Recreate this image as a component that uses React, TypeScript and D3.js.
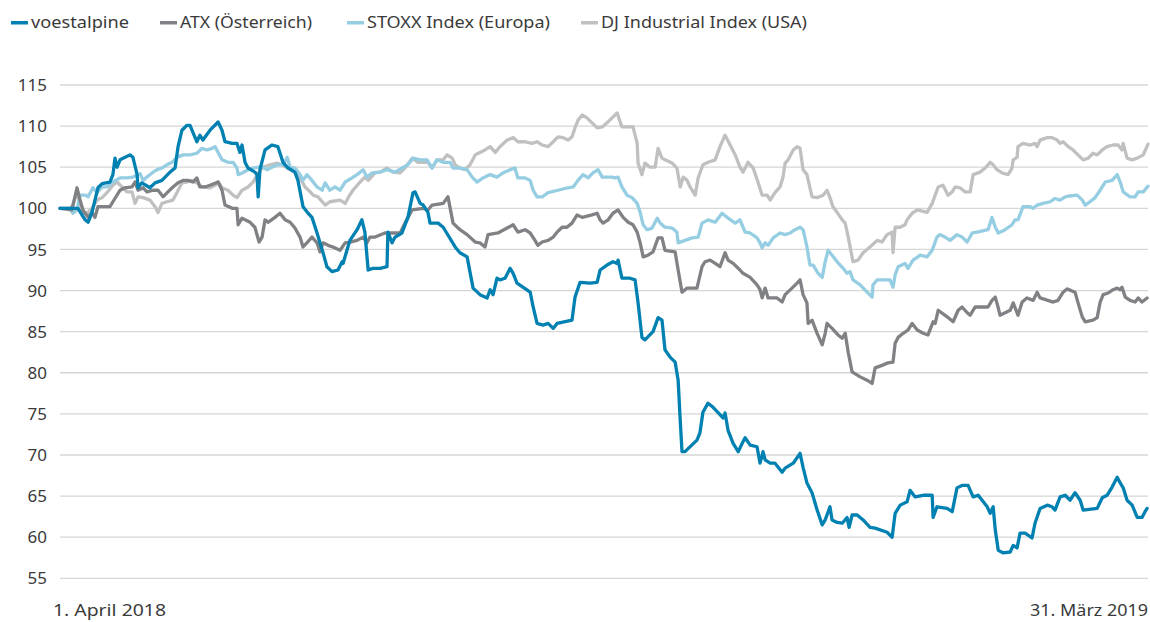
import React from "react";
import * as d3 from "d3";

// x = days since 1 April 2018, y = indexed value (1 April 2018 = 100)
const voestalpine: [number, number][] = [
  [0, 100], [3.3, 100], [6, 100], [8.4, 98.6], [9.4, 98.3], [10.7, 99.5], [12.7, 102.5], [14.1, 103.0],
  [16.7, 103.2], [17.7, 104.1], [18.4, 106.1], [19.1, 105.0], [20.1, 105.9], [23.4, 106.5], [24.4, 106.2],
  [25.8, 104.1], [26.1, 102.5], [27.4, 103.1], [30.1, 102.5], [31.8, 103.1], [34.1, 103.4], [36.8, 104.4],
  [38.5, 104.9], [39.5, 107.5], [40.8, 109.5], [42.5, 110.1], [43.5, 110.1], [44.5, 109.2], [45.8, 108.1],
  [46.8, 108.9], [47.8, 108.3], [50.2, 109.5], [52.9, 110.5], [54.2, 109.5], [55.2, 108.1], [57.6, 107.9],
  [59.2, 107.9], [60.2, 106.8], [60.9, 107.7], [61.9, 105.6], [62.9, 104.9], [65.2, 104.4], [65.9, 104.1],
  [66.3, 101.4], [66.9, 104.7], [68.6, 107.1], [70.9, 107.7], [72.9, 107.5], [74.6, 105.6], [76.3, 104.9],
  [78.6, 104.4], [79.6, 103.4], [81.3, 100.2], [83, 99.4], [84.3, 98.9], [86, 97.0], [88, 94.6], [89.3, 92.9],
  [91, 92.3], [93, 92.5], [94.4, 93.5], [94.7, 93.3], [96, 94.9], [97, 96.1], [99.4, 97.4], [101, 98.6],
  [102, 97.1], [103.1, 92.5], [104.7, 92.7], [107.1, 92.7], [109.4, 92.9], [109.7, 97.1], [111.1, 95.8],
  [112.1, 96.5], [114.4, 97.0], [116.4, 98.9], [118.1, 101.9], [118.8, 102.0], [120.5, 100.6], [121.5, 100.4],
  [123.1, 99.5], [123.8, 98.2], [126.5, 98.2], [128.2, 97.7], [132.2, 95.3], [133.8, 94.6], [136.2, 94.1],
  [138.2, 90.3], [140.5, 89.5], [142.9, 89.1], [143.9, 90.1], [144.9, 89.5], [146.2, 91.5], [147.2, 91.3],
  [148.9, 91.5], [150.6, 92.7], [151.6, 92.1], [152.9, 90.9], [157.3, 89.8], [158.3, 88.0], [159.6, 86.0],
  [161.6, 85.8], [163.3, 86.0], [165, 85.4], [166.3, 86.0], [171.3, 86.4], [172.3, 89.2], [174, 91.0],
  [177.3, 90.9], [179.7, 91.0], [180.7, 92.5], [183, 93.1], [185, 93.5], [186.4, 93.3], [186.7, 93.7],
  [188, 91.5], [190.7, 91.5], [192.4, 91.3], [193.4, 88.5], [194.7, 84.3], [195.7, 84.0], [198.4, 85.0],
  [200.1, 86.7], [201.4, 86.4], [202.4, 82.8], [204.1, 81.9], [205.8, 81.3], [206.8, 79.1], [207.5, 74.2],
  [208.1, 70.4], [209.1, 70.4], [213.1, 71.8], [214.1, 72.7], [215.1, 75.2], [216.8, 76.3], [218.5, 75.8],
  [220.8, 74.9], [221.8, 74.5], [222.5, 75.1], [223.5, 73.0], [225.2, 71.4], [226.9, 70.4], [228.2, 71.4],
  [229.2, 72.1], [230.9, 71.2], [233.2, 71.0], [234.2, 69.0], [235.2, 70.4], [235.9, 69.4], [237.6, 69.0],
  [239.2, 69.0], [241.6, 67.9], [242.6, 68.4], [245.3, 69.0], [247.6, 70.2], [248.6, 68.5], [249.9, 66.6],
  [251.6, 65.4], [253.3, 63.3], [255, 61.5], [256, 62.1], [257.6, 63.7], [258.3, 62.1], [260, 61.8],
  [261.7, 61.7], [263.3, 62.4], [264, 61.2], [265, 62.7], [266.7, 62.7], [268.7, 62.1], [271, 61.2],
  [272.7, 61.1], [276.7, 60.6], [278.4, 60.0], [279.4, 62.9], [281.1, 63.9], [283.4, 64.3], [284.4, 65.7],
  [286.1, 64.9], [288.8, 65.1], [291.8, 65.1], [292.1, 62.4], [293.4, 63.7], [296.8, 63.5], [298.5, 63.1],
  [300.1, 66.0], [301.8, 66.3], [303.8, 66.3], [305.5, 64.9], [307.2, 65.1], [310.2, 63.7], [311.2, 62.9],
  [312.2, 63.7], [312.9, 60.9], [313.9, 58.4], [315.5, 58.1], [317.9, 58.2], [318.9, 59.0], [320.2, 58.7],
  [321.2, 60.5], [322.9, 60.5], [325.2, 59.9], [326.2, 61.7], [327.9, 63.5], [330.3, 63.9], [331.9, 63.7],
  [332.9, 63.3], [334.6, 64.9], [336.3, 65.1], [337.9, 64.5], [339.6, 65.4], [341.3, 64.5], [342.3, 63.3],
  [347, 63.5], [348.7, 64.8], [350.3, 65.1], [352, 66.1], [353.7, 67.3], [354.7, 66.6], [355.7, 66.0],
  [357, 64.5], [358.7, 63.9], [360.4, 62.4], [362, 62.4], [363, 63.1], [363.7, 63.5],
];

const atx: [number, number][] = [
  [0, 100], [4, 99.8], [5.7, 102.5], [6.7, 101.0], [7.7, 99.8], [9.4, 98.9], [10.7, 99.5], [11.7, 98.9],
  [12.7, 100.2], [14.4, 100.2], [16.7, 100.2], [17.7, 100.8], [20.1, 102.2], [21.7, 102.5], [24.1, 102.6],
  [25.1, 103.2], [26.1, 102.2], [27.8, 102.5], [29.1, 102.0], [31.1, 102.2], [32.8, 102.2], [34.5, 101.4],
  [36.1, 102.0], [37.8, 102.6], [39.5, 103.1], [41.2, 103.4], [42.8, 103.4], [44.5, 103.2], [45.8, 103.7],
  [46.8, 102.6], [48.5, 102.6], [50.2, 102.8], [52.9, 103.2], [54.2, 102.2], [55.2, 100.4], [57.6, 100.0],
  [59.2, 100.0], [59.6, 98.0], [60.9, 98.8], [63.6, 98.3], [65.2, 97.7], [66.6, 95.9], [67.6, 96.5],
  [68.6, 98.6], [69.6, 98.3], [71.9, 98.9], [73.6, 99.4], [75.3, 98.6], [77, 98.3], [78.6, 97.6],
  [80.3, 96.5], [81.3, 95.3], [82.6, 95.8], [84.3, 96.5], [86, 95.8], [87, 94.7], [88, 95.8], [89.7, 95.5],
  [91.3, 95.3], [93.7, 94.9], [95.4, 95.8], [97, 95.9], [99.4, 96.1], [101.4, 96.5], [102.7, 95.8],
  [103.7, 96.5], [105.4, 96.5], [108.7, 97.0], [113.8, 97.0], [115.4, 98.2], [117.8, 99.8], [121.5, 100.0],
  [123.1, 99.8], [124.5, 100.4], [128.2, 100.6], [129.8, 101.4], [131.5, 98.2], [133.8, 97.4], [136.2, 96.8],
  [138.9, 95.9], [140.5, 95.8], [142.2, 95.3], [143.2, 96.8], [146.5, 97.0], [149.6, 97.6], [151.6, 98.0],
  [153.2, 97.1], [155.6, 97.4], [157.3, 97.0], [158.9, 96.1], [159.9, 95.5], [161.3, 95.9], [163.3, 96.1],
  [165, 96.5], [166.3, 97.1], [168, 97.7], [169.6, 97.7], [171.3, 98.2], [173, 99.2], [174.7, 98.9],
  [178, 99.2], [179.7, 99.4], [180.7, 98.6], [181.7, 98.2], [183.4, 98.6], [185, 99.4], [186.7, 99.8],
  [188.4, 98.9], [190.1, 98.3], [191.7, 98.0], [193.1, 97.1], [194.1, 95.8], [195.1, 94.1], [196.7, 94.3],
  [198.4, 94.7], [200.1, 96.4], [201.4, 96.4], [202.4, 94.9], [205.8, 94.7], [206.8, 92.5], [208.1, 89.8],
  [209.8, 90.3], [213.1, 90.3], [214.8, 92.9], [215.8, 93.5], [217.5, 93.7], [219.2, 93.3], [220.8, 92.9],
  [222.5, 94.6], [223.5, 93.7], [225.2, 93.3], [227.5, 92.5], [228.5, 92.1], [230.9, 91.6], [233.2, 90.7],
  [234.2, 90.1], [234.9, 89.1], [235.9, 90.3], [236.9, 89.1], [239.9, 89.1], [241.6, 88.6], [242.6, 89.5],
  [244.9, 90.3], [246.6, 90.9], [247.6, 91.3], [248.6, 89.5], [249.9, 88.5], [250.3, 86.0], [251.6, 86.4],
  [253.3, 84.8], [255, 83.4], [256, 84.8], [256.6, 86.0], [258.3, 85.4], [260.3, 84.6], [261.7, 84.2],
  [262.7, 84.8], [263.7, 82.5], [265, 80.1], [267.7, 79.5], [270, 79.1], [271.7, 78.7], [272.7, 80.6],
  [275, 80.9], [277, 81.2], [278.7, 81.3], [279.4, 83.6], [280.4, 84.3], [282.1, 84.8], [283.7, 85.2],
  [285.1, 86.0], [286.8, 85.2], [288.8, 84.8], [290.4, 84.6], [292.1, 86.2], [292.8, 86.0], [293.8, 87.6],
  [296.8, 86.8], [298.8, 86.2], [300.5, 87.6], [301.8, 88.0], [303.5, 87.3], [304.5, 87.0], [306.2, 88.0],
  [310.5, 88.0], [311.8, 88.8], [312.9, 89.2], [313.9, 87.9], [314.5, 87.0], [316.2, 87.3], [317.9, 87.6],
  [318.9, 88.5], [320.5, 87.0], [321.9, 88.6], [323.5, 89.1], [325.6, 88.8], [326.9, 89.8], [327.9, 89.1],
  [332.3, 88.6], [333.9, 88.8], [335.6, 89.8], [336.9, 90.2], [339.6, 89.8], [340.6, 88.5], [342, 86.8],
  [343, 86.2], [345.6, 86.4], [347, 86.7], [348, 88.6], [349, 89.5], [350.7, 89.7], [352.3, 90.1],
  [353.7, 90.3], [354.7, 90.1], [355.3, 90.4], [356.4, 89.2], [358, 88.8], [359.7, 88.6], [360.7, 89.1],
  [362, 88.6], [363.7, 89.1],
];

const stoxx: [number, number][] = [
  [0, 100], [3.3, 100], [4.3, 99.4], [5.7, 99.8], [6.7, 101.6], [8.4, 101.6], [9.4, 101.4], [11, 102.5],
  [12.4, 101.9], [14.1, 102.6], [15.7, 102.6], [17.7, 103.2], [20.1, 103.7], [22.4, 103.7], [24.4, 103.8],
  [26.8, 104.2], [27.8, 103.4], [29.1, 103.8], [30.8, 104.3], [32.5, 104.7], [34.1, 104.9], [35.8, 105.3],
  [37.5, 105.6], [39.1, 106.2], [41.2, 106.5], [43.5, 106.5], [45.8, 106.7], [47.5, 107.3], [49.2, 107.1],
  [50.9, 107.3], [51.9, 107.5], [52.9, 106.8], [54.2, 105.9], [56.2, 105.6], [57.9, 105.6], [59.2, 104.9],
  [59.6, 104.1], [60.9, 104.3], [62.9, 104.7], [64.6, 104.9], [66.3, 105.0], [67.9, 105.0], [69.3, 104.7],
  [70.9, 105.0], [72.9, 105.3], [74.6, 105.3], [76, 106.2], [77, 105.0], [78.6, 104.9], [80.3, 104.1],
  [81.3, 103.4], [82.6, 104.1], [84.3, 103.4], [86, 102.6], [87.7, 102.2], [88.7, 103.1], [90.3, 102.2],
  [92, 102.6], [93.7, 102.2], [95.4, 103.2], [97.7, 103.7], [99.4, 104.1], [101.4, 104.7], [102.7, 103.8],
  [104.4, 104.3], [107.1, 104.4], [109.4, 104.7], [112.1, 104.4], [114.4, 104.9], [116.4, 105.3],
  [118.1, 106.1], [120.5, 105.9], [122.8, 105.9], [124.5, 104.9], [126.1, 105.9], [128.2, 105.6],
  [130.5, 105.6], [131.5, 104.9], [133.8, 104.9], [136.2, 104.7], [137.9, 103.8], [139.5, 103.2],
  [141.5, 103.7], [143.9, 104.1], [146.2, 103.8], [148.2, 104.3], [150.6, 104.7], [152.2, 104.9],
  [153.2, 103.7], [155.6, 103.7], [157.3, 103.4], [158.3, 102.2], [159.6, 101.4], [161.3, 101.4],
  [163.3, 101.9], [166.6, 102.2], [170, 102.5], [171.7, 102.6], [173.3, 103.4], [175, 104.1], [176.7, 103.7],
  [178.3, 104.3], [180, 104.7], [181.4, 103.8], [184.7, 103.8], [185.7, 103.7], [186.7, 103.8], [188, 102.6],
  [189.7, 101.6], [191.4, 101.3], [193.1, 100.6], [194.1, 99.5], [195.1, 98.0], [196.4, 97.4], [198.1, 97.6],
  [199.8, 98.8], [200.8, 98.2], [202.4, 97.7], [204.8, 97.6], [206.4, 97.1], [206.8, 95.8], [209.1, 96.1],
  [211.5, 96.4], [213.5, 96.5], [214.8, 98.2], [216.8, 98.6], [219.2, 98.3], [221.5, 99.4], [223.2, 98.9],
  [225.9, 98.2], [227.5, 98.6], [229.2, 97.1], [230.9, 97.0], [233.2, 96.4], [234.2, 95.8], [234.9, 95.2],
  [235.9, 95.8], [236.9, 95.5], [238.6, 96.4], [240.9, 97.0], [242.6, 96.8], [244.3, 97.0], [245.9, 97.4],
  [247.6, 97.7], [248.6, 97.4], [249.9, 95.3], [250.9, 93.1], [252, 93.1], [253.6, 92.1], [255, 91.6],
  [256, 93.5], [257, 94.9], [258.3, 94.3], [260, 93.5], [262, 92.7], [263.3, 92.1], [264.3, 92.3],
  [265.3, 91.3], [267.7, 90.7], [270, 89.8], [271.7, 89.2], [272, 90.7], [273.4, 91.3], [277.7, 91.3],
  [278.7, 90.4], [279.4, 91.9], [280.4, 92.9], [282.7, 93.3], [283.7, 92.7], [285.4, 93.7], [287.8, 94.3],
  [290.1, 94.1], [291.8, 94.9], [293.4, 96.5], [294.4, 96.8], [296.1, 96.5], [297.8, 96.1], [300.1, 96.8],
  [301.8, 96.5], [303.5, 95.9], [305.2, 97.0], [306.8, 97.1], [310.5, 97.4], [311.8, 98.9], [312.9, 97.7],
  [313.9, 97.0], [316.2, 97.4], [318.5, 98.0], [319.5, 98.6], [320.5, 98.6], [322.2, 100.2], [324.6, 100.2],
  [325.6, 100.0], [326.9, 100.4], [328.9, 100.6], [331.3, 100.8], [332.9, 101.2], [334.6, 101.0],
  [336.3, 101.4], [337.9, 101.5], [340.3, 101.6], [342, 101.0], [343, 100.4], [344.6, 100.8], [346.3, 101.3],
  [348, 102.2], [349.7, 103.2], [352, 103.4], [353.7, 104.1], [354.7, 103.2], [355.7, 102.0], [358, 101.4],
  [359.7, 101.4], [360.7, 102.0], [362.4, 102.0], [364, 102.7],
];

const djIndustrial: [number, number][] = [
  [0, 100], [3.3, 100], [4.3, 100.4], [5.7, 102.2], [6, 101.4], [7.4, 99.5], [9, 99.4], [10.7, 100],
  [12.4, 101.0], [14.1, 101.3], [15.7, 101.9], [17.7, 102.8], [19.1, 103.2], [20.7, 102.6], [22.4, 102.0],
  [24.1, 102.0], [25.1, 100.6], [26.1, 101.4], [27.8, 101.3], [30.1, 101.0], [31.8, 100.2], [32.8, 99.5],
  [34.1, 100.6], [35.8, 100.8], [37.8, 101.0], [39.1, 101.9], [40.8, 103.1], [42.5, 103.2], [44.2, 103.4],
  [45.8, 103.1], [47.5, 102.6], [50.2, 102.5], [51.9, 102.8], [52.9, 103.2], [54.2, 102.5], [56.2, 102.2],
  [57.9, 101.6], [59.2, 101.3], [60.9, 102.2], [62.9, 102.6], [64.6, 103.2], [66.3, 104.3], [67.9, 105.0],
  [70.3, 105.3], [72.6, 105.5], [74.3, 105.3], [77, 104.7], [78.6, 104.4], [80.3, 103.7], [82, 102.6],
  [83.7, 102.0], [84.7, 101.6], [86.3, 101.4], [88.7, 100.4], [90.3, 100.8], [93.7, 101.0], [95.4, 100.6],
  [96.4, 101.3], [98, 102.2], [100.4, 103.2], [102, 103.8], [103.1, 103.4], [105.4, 104.3], [107.1, 104.4],
  [109.4, 104.9], [111.4, 104.4], [113.8, 104.3], [115.4, 104.9], [117.8, 106.1], [119.8, 105.6],
  [123.1, 105.6], [124.5, 104.9], [126.1, 105.9], [128.2, 105.9], [129.5, 106.5], [131.2, 106.1],
  [132.2, 105.3], [133.8, 104.9], [135.5, 104.7], [137.2, 105.3], [138.9, 106.5], [140.5, 106.8],
  [142.2, 107.1], [143.9, 107.5], [145.6, 106.8], [147.2, 107.5], [149.6, 108.3], [151.6, 108.6],
  [153.2, 108.1], [155.6, 108.1], [157.9, 107.9], [159.6, 108.1], [161.3, 107.7], [163.3, 107.5],
  [165, 108.1], [166.6, 108.7], [168.3, 108.6], [170, 108.3], [171.3, 108.7], [172.3, 109.8], [173.3, 110.7],
  [174.7, 111.35], [176.3, 111.0], [178, 110.4], [179.7, 109.8], [181.4, 109.9], [183, 110.4], [184.7, 111.0],
  [186.4, 111.6], [188, 109.9], [191.7, 109.9], [193.1, 107.9], [193.4, 105.5], [194.7, 104.1],
  [195.7, 105.5], [197.4, 105.0], [199.1, 105.0], [200.1, 107.3], [201.4, 106.1], [202.4, 105.9],
  [204.8, 105.5], [206.4, 104.9], [207.5, 102.6], [208.5, 103.8], [209.8, 103.4], [210.8, 102.6],
  [212.5, 101.6], [213.5, 103.7], [215.1, 105.3], [216.8, 105.6], [219.2, 105.9], [220.8, 107.5],
  [222.5, 108.9], [224.2, 107.7], [225.9, 106.5], [227.5, 105.0], [228.5, 104.4], [230.2, 105.6],
  [231.9, 104.9], [233.5, 103.2], [234.9, 101.6], [236.6, 101.6], [237.6, 101.0], [239.2, 101.9],
  [240.9, 102.6], [241.9, 103.8], [242.6, 105.5], [243.6, 105.9], [245.3, 107.1], [246.6, 107.5],
  [247.6, 107.3], [248.6, 104.7], [249.9, 104.1], [251.6, 101.4], [253.3, 101.3], [255.3, 101.6],
  [256.6, 102.2], [257.6, 101.3], [258.6, 100.2], [260, 99.5], [261.7, 98.6], [262.7, 98.2], [263.7, 96.5],
  [265.3, 93.5], [267, 93.7], [268.7, 94.6], [271, 95.3], [273.4, 96.1], [275, 95.9], [276.7, 96.8],
  [278.4, 97.1], [278.7, 94.6], [279.4, 97.7], [281.1, 97.7], [282.7, 98.0], [283.4, 98.6], [285.1, 99.4],
  [286.8, 99.8], [290.1, 99.5], [291.8, 100.6], [292.8, 101.6], [293.8, 102.6], [295.4, 102.8],
  [297.1, 101.6], [298.5, 102.0], [299.5, 102.6], [301.1, 102.5], [302.8, 102.0], [304.5, 102.0],
  [305.5, 104.1], [307.8, 104.4], [309.5, 104.9], [311.2, 105.6], [312.2, 105.3], [313.5, 104.7],
  [315.2, 104.3], [317.2, 104.1], [318.5, 104.9], [318.9, 105.9], [320.2, 106.2], [320.5, 107.5],
  [322.2, 107.9], [324.6, 107.7], [326.2, 107.9], [326.9, 107.5], [327.9, 108.3], [330.3, 108.6],
  [331.9, 108.6], [333.6, 108.3], [334.6, 107.9], [335.6, 108.1], [337.3, 107.5], [338.9, 107.1],
  [340.6, 106.5], [342.3, 105.9], [344, 106.1], [345.6, 106.7], [347, 106.5], [348.7, 107.1], [350.3, 107.5],
  [352.3, 107.7], [354, 107.7], [355.3, 107.1], [355.7, 107.9], [357, 106.1], [358.7, 105.9], [360.4, 106.1],
  [362.4, 106.5], [364, 107.8],
];

const seriesNames = ["voestalpine", "ATX (Österreich)", "STOXX Index (Europa)", "DJ Industrial Index (USA)"];
const seriesColors = ["#0081b1", "#808184", "#95cde2", "#c0c0c1"];
const seriesData = [voestalpine, atx, stoxx, djIndustrial];
const yTicks = [55, 60, 65, 70, 75, 80, 85, 90, 95, 100, 105, 110, 115];
const xLabels = ["1. April 2018", "31. März 2019"];
const dayDomain: [number, number] = [0, 364];

const W = 1150;
const H = 622;
const FONT = "'Noto Sans', 'Open Sans', sans-serif";

export default function App() {
  const x = d3.scaleLinear().domain(dayDomain).range([60, 1148]);
  const y = d3.scaleLinear().domain([55, 115]).range([578.3, 85]);
  const line = d3
    .line<[number, number]>()
    .x((d) => x(d[0]))
    .y((d) => y(d[1]));

  const legendX = [11, 160, 347, 581];
  const legendLen = [98, 132, 183, 206];
  const drawOrder = [3, 2, 1, 0];

  return (
    <svg
      width={W}
      height={H}
      style={{ position: "absolute", left: 0, top: 0, background: "#fff" }}
      fontFamily={FONT}
    >
      {/* legend */}
      {seriesNames.map((name, i) => (
        <g key={name} transform={`translate(${legendX[i]},0)`}>
          <rect x={0} y={21} width={17} height={3.5} fill={seriesColors[i]} />
          <text
            x={20}
            y={27.5}
            fontSize={16.5}
            fill="#3a3a3a"
            textLength={legendLen[i]}
            lengthAdjust="spacingAndGlyphs"
          >
            {name}
          </text>
        </g>
      ))}

      {/* grid + y labels */}
      {yTicks.map((t) => (
        <g key={t}>
          <line x1={x(dayDomain[0])} x2={x(dayDomain[1])} y1={y(t)} y2={y(t)} stroke="#d6d6d6" strokeWidth={1.3} />
          <text x={47} y={y(t)} dy="0.36em" textAnchor="end" fontSize={17} fill="#3a3a3a">
            {t}
          </text>
        </g>
      ))}

      {/* x labels */}
      <text x={53} y={616} fontSize={17} fill="#3a3a3a" textLength={113} lengthAdjust="spacingAndGlyphs">
        {xLabels[0]}
      </text>
      <text x={1030} y={616} fontSize={17} fill="#3a3a3a" textLength={118} lengthAdjust="spacingAndGlyphs">
        {xLabels[1]}
      </text>

      {/* lines */}
      {drawOrder.map((i) => (
        <path
          key={seriesNames[i]}
          d={line(seriesData[i]) || ""}
          fill="none"
          stroke={seriesColors[i]}
          strokeWidth={3.3}
          strokeLinejoin="round"
          strokeLinecap="round"
        />
      ))}
    </svg>
  );
}
